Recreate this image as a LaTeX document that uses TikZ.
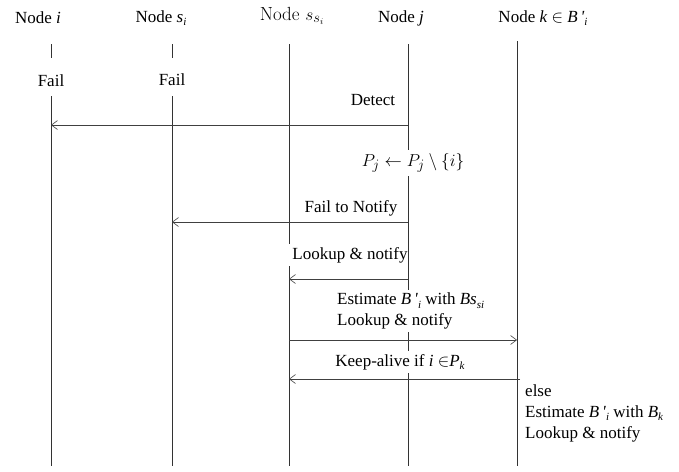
\documentclass[tikz,border=0pt]{standalone}
\usepackage{fontspec}
\newfontfamily\tnr{Liberation Serif}
\usetikzlibrary{arrows.meta}
% lowered italic subscript for text-mode labels
\newcommand\lsub[1]{\raisebox{-0.45ex}{\fontsize{11}{11}\selectfont\itshape #1}}

\begin{document}
\begin{tikzpicture}[x=1pt,y=-1pt,
  lbl/.style={font=\tnr\fontsize{17}{21}\selectfont, inner sep=2pt},
  mathlbl/.style={font=\fontsize{19}{22}\selectfont, inner sep=2pt},
  cover/.style={fill=white, inner sep=3pt},
  life/.style={draw=black!80, line width=0.9pt},
  msg/.style={draw=black!75, line width=0.6pt, -{Straight Barb[length=6pt,width=9pt]}}]
\useasboundingbox (0,0) rectangle (679,471);

% column headers
\node[lbl] (hi) at (38,18) {Node \textit{i}};
\node[lbl] (hsi) at (161,18) {Node \textit{s}\lsub{i}};
\node[mathlbl] (hssi) at (292,16) {Node $s_{s_i}$};
\node[lbl] (hj) at (401,18) {Node \textit{j}};
\node[lbl] (hk) at (543,18) {Node \textit{k} $\in$ \textit{B\,'}\lsub{i}};

% lifeline end points
\coordinate (i0) at (51,44);  \coordinate (i1) at (51,58);
\coordinate (i2) at (51,96);  \coordinate (i3) at (51,466);
\coordinate (s0) at (172,44); \coordinate (s1) at (172,58);
\coordinate (s2) at (172,96); \coordinate (s3) at (172,466);
\coordinate (t0) at (289,44); \coordinate (t1) at (289,466);
\coordinate (j0) at (408,44); \coordinate (j1) at (408,466);
\coordinate (k0) at (517,41); \coordinate (k1) at (517,466);

% message end points
\coordinate (iA) at (51,125);  \coordinate (jA) at (408,125);
\coordinate (sB) at (172,222); \coordinate (jB) at (408,222);
\coordinate (tC) at (289,279); \coordinate (jC) at (408,279);
\coordinate (tD) at (289,340); \coordinate (kD) at (517,340);
\coordinate (tE) at (289,379); \coordinate (kE) at (520,379);

% failing nodes
\path[life] (i0) -- (i1) (i2) -- (i3);
\path[life] (s0) -- (s1) (s2) -- (s3);
\node[lbl] (fi) at (51,81) {Fail};
\node[lbl] (fs) at (172,80) {Fail};

\path[life] (t0) -- (t1);
\node[lbl, cover] (look1) at (350,255) {Lookup \& notify};
\path[life] (j0) -- (j1);
\path[life] (k0) -- (k1);

% messages
\node[lbl] (det) at (373,100) {Detect};
\draw[msg] (jA) -- (iA);

\node[mathlbl, cover] (upd) at (413,163) {$P_j \leftarrow P_j \setminus \{i\}$};

\node[lbl] (fnot) at (351,208) {Fail to Notify};
\draw[msg] (jB) -- (sB);

\draw[msg] (jC) -- (tC);

\node[lbl, cover, align=left, anchor=west] (est) at (334,311)
  {Estimate \textit{B\,'}\lsub{i} with \textit{Bs}\lsub{si}\\Lookup \& notify};
\draw[msg] (tD) -- (kD);

\node[lbl, cover] (keep) at (400,362) {Keep-alive if \textit{i} $\in$\textit{P}\lsub{k}};
\draw[msg] (kE) -- (tE);

\node[lbl, align=left, anchor=north west] (els) at (523,382)
  {else\\Estimate \textit{B\,'}\lsub{i} with \textit{B}\lsub{k}\\Lookup \& notify};
\end{tikzpicture}
\end{document}
